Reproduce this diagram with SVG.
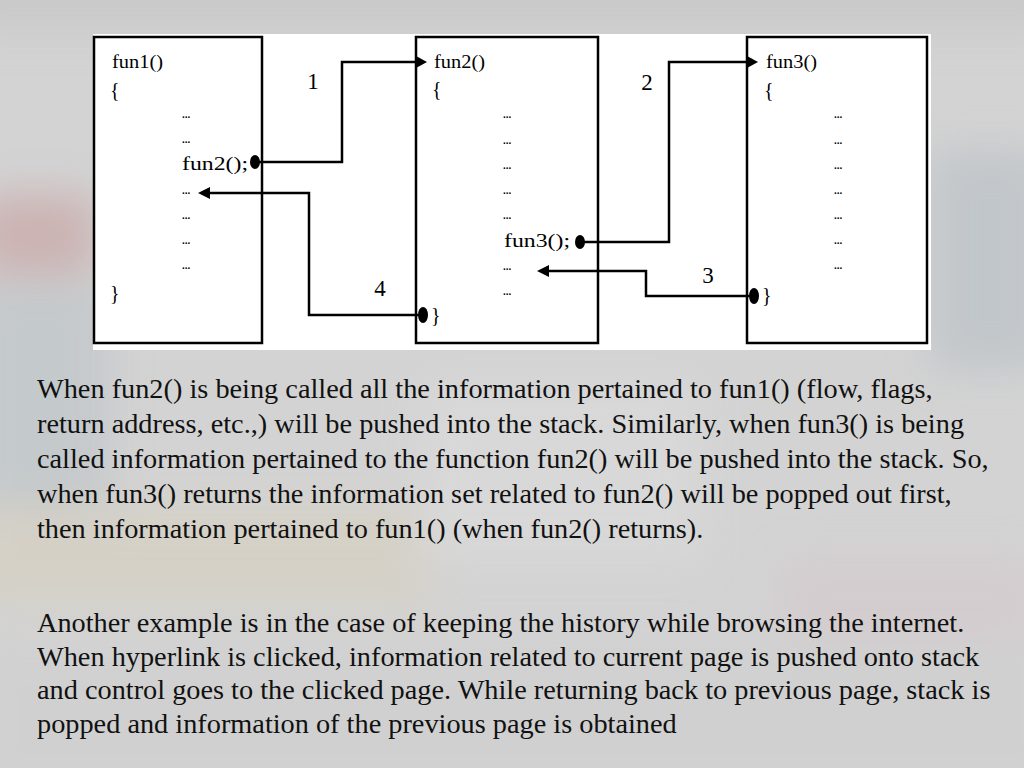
<svg xmlns="http://www.w3.org/2000/svg" width="1024" height="768" viewBox="0 0 1024 768">
  <defs>
    <filter id="blur" x="-50%" y="-50%" width="200%" height="200%">
      <feGaussianBlur stdDeviation="20"/>
    </filter>
    <style>
      .box { fill: none; stroke: #000; stroke-width: 2.5; }
      .code { font-family: "Liberation Serif", "Times New Roman", serif; font-size: 18px; fill: #000; }
      .brace { font-family: "Liberation Serif", "Times New Roman", serif; font-size: 20px; fill: #000; }
      .dots { font-family: "Liberation Sans", Arial, sans-serif; font-size: 10px; font-weight: bold; fill: #000; }
      .num { font-family: "Liberation Serif", "Times New Roman", serif; font-size: 23px; fill: #000; text-anchor: middle; }
      .conn { fill: none; stroke: #000; stroke-width: 2.5; }
      .para { font-family: "Liberation Serif", "Times New Roman", serif; font-size: 28.3px; fill: #111; }
    </style>
  </defs>

  <!-- blurred photographic background -->
  <g id="background">
    <rect x="0" y="0" width="1024" height="768" fill="#d3d3d3"/>
    <g filter="url(#blur)" opacity="0.75">
      <rect x="-40" y="-40" width="1104" height="70" fill="#c6c6c6"/>
      <rect x="-20" y="195" width="115" height="80" fill="#c9a7a7"/>
      <rect x="-30" y="285" width="140" height="220" fill="#c0c6c9"/>
      <rect x="-30" y="505" width="460" height="100" fill="#d6d0c2"/>
      <rect x="930" y="150" width="120" height="220" fill="#bcc2c8"/>
      <rect x="780" y="560" width="260" height="150" fill="#d4cacd"/>
      <rect x="420" y="380" width="280" height="180" fill="#dadada"/>
      <rect x="-30" y="640" width="1100" height="160" fill="#d0d0d0"/>
    </g>
  </g>

  <!-- white picture area -->
  <rect x="93" y="34" width="838" height="316" fill="#ffffff"/>

  <g id="node-fun1">
    <rect class="box" x="94" y="37" width="168" height="306"/>
    <text class="code" x="112" y="68" textLength="51" lengthAdjust="spacingAndGlyphs">fun1()</text>
    <text class="brace" x="110" y="97">{</text>
    <text class="dots" x="182" y="118">...</text>
    <text class="dots" x="182" y="143">...</text>
    <text class="code" x="182" y="170" textLength="66" lengthAdjust="spacingAndGlyphs">fun2();</text>
    <text class="dots" x="182" y="194">...</text>
    <text class="dots" x="182" y="219">...</text>
    <text class="dots" x="182" y="244">...</text>
    <text class="dots" x="182" y="269">...</text>
    <text class="brace" x="110" y="300">}</text>
  </g>

  <g id="node-fun2">
    <rect class="box" x="416" y="37" width="182" height="306"/>
    <text class="code" x="434" y="68" textLength="51" lengthAdjust="spacingAndGlyphs">fun2()</text>
    <text class="brace" x="432" y="96">{</text>
    <text class="dots" x="503" y="118">...</text>
    <text class="dots" x="503" y="144">...</text>
    <text class="dots" x="503" y="169">...</text>
    <text class="dots" x="503" y="194">...</text>
    <text class="dots" x="503" y="219">...</text>
    <text class="code" x="504" y="247" textLength="66" lengthAdjust="spacingAndGlyphs">fun3();</text>
    <text class="dots" x="503" y="270">...</text>
    <text class="dots" x="503" y="295">...</text>
    <text class="brace" x="431" y="322">}</text>
  </g>

  <g id="node-fun3">
    <rect class="box" x="747" y="37" width="180" height="306"/>
    <text class="code" x="766" y="68" textLength="51" lengthAdjust="spacingAndGlyphs">fun3()</text>
    <text class="brace" x="764" y="97">{</text>
    <text class="dots" x="834" y="118">...</text>
    <text class="dots" x="834" y="144">...</text>
    <text class="dots" x="834" y="169">...</text>
    <text class="dots" x="834" y="194">...</text>
    <text class="dots" x="834" y="219">...</text>
    <text class="dots" x="834" y="244">...</text>
    <text class="dots" x="834" y="269">...</text>
    <text class="brace" x="762" y="302">}</text>
  </g>

  <g id="connectors">
    <!-- 1: fun1 calls fun2 -->
    <path class="conn" d="M258 162 H342 V62 H418"/>
    <polygon points="416,56 427,62 416,68" fill="#000"/>
    <ellipse cx="255" cy="162" rx="5" ry="7" fill="#000"/>
    <text class="num" x="313" y="89">1</text>

    <!-- 2: fun2 calls fun3 -->
    <path class="conn" d="M580 242 H669 V62 H749"/>
    <polygon points="747,56 758,62 747,68" fill="#000"/>
    <ellipse cx="580" cy="242" rx="5" ry="7" fill="#000"/>
    <text class="num" x="647" y="90">2</text>

    <!-- 3: fun3 returns to fun2 -->
    <path class="conn" d="M754 296 H646 V271 H546"/>
    <polygon points="549,265 537,271 549,277" fill="#000"/>
    <ellipse cx="754" cy="296" rx="5" ry="8" fill="#000"/>
    <text class="num" x="708" y="283">3</text>

    <!-- 4: fun2 returns to fun1 -->
    <path class="conn" d="M423 315 H309 V193 H208"/>
    <polygon points="210,187 198,193 210,199" fill="#000"/>
    <ellipse cx="423" cy="315" rx="5" ry="8" fill="#000"/>
    <text class="num" x="380" y="296">4</text>
  </g>

  <g id="text-paragraph-1">
    <text class="para" x="37" y="398">When fun2() is being called all the information pertained to fun1() (flow, flags,</text>
    <text class="para" x="37" y="433">return address, etc.,) will be pushed into the stack. Similarly, when fun3() is being</text>
    <text class="para" x="37" y="468">called information pertained to the function fun2() will be pushed into the stack. So,</text>
    <text class="para" x="37" y="503">when fun3() returns the information set related to fun2() will be popped out first,</text>
    <text class="para" x="37" y="538">then information pertained to fun1() (when fun2() returns).</text>
  </g>

  <g id="text-paragraph-2">
    <text class="para" x="37" y="632">Another example is in the case of keeping the history while browsing the internet.</text>
    <text class="para" x="37" y="665.5">When hyperlink is clicked, information related to current page is pushed onto stack</text>
    <text class="para" x="37" y="699">and control goes to the clicked page. While returning back to previous page, stack is</text>
    <text class="para" x="37" y="732.5">popped and information of the previous page is obtained</text>
  </g>
</svg>
